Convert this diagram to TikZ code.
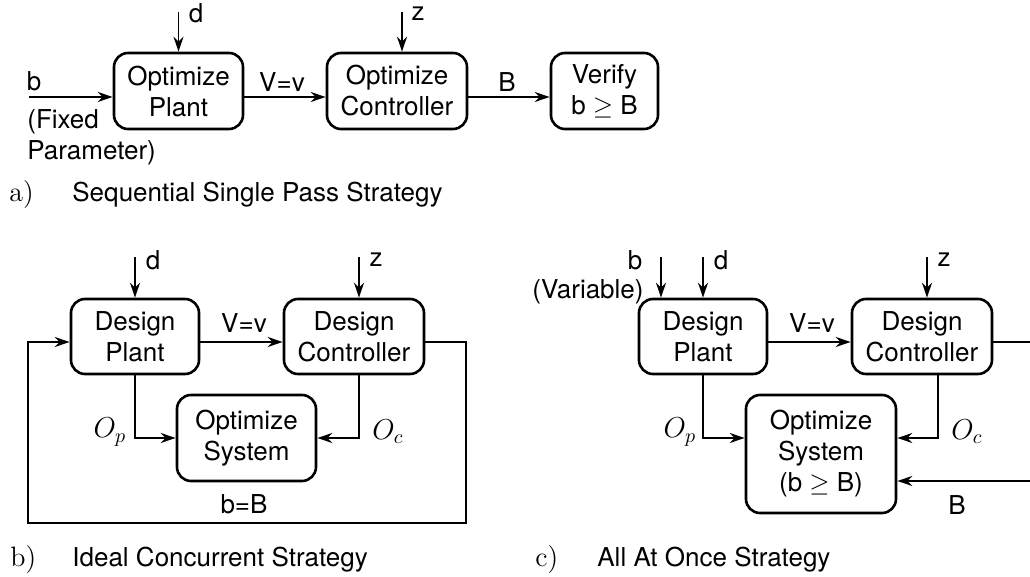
\documentclass[tikz,border=0pt]{standalone}
\usepackage{fix-cm}
\usepackage{fontspec}
\newfontfamily\hv{TeX Gyre Heros}
\usetikzlibrary{arrows.meta}
\newcommand\rmbig{\rmfamily\fontsize{14}{16}\selectfont}
\newcommand\mbig{\rmfamily\fontsize{14.4}{16}\selectfont}
\newcommand\hvbig{\hv\fontsize{13}{15.5}\selectfont}
\begin{document}
\begin{tikzpicture}[x=0.5pt,y=-0.5pt,
  blk/.style={draw,line width=1.3pt,rounded corners=7pt,align=center,inner sep=0pt,
    minimum height=38pt,font=\hvbig},
  lbl/.style={inner sep=0pt,font=\hvbig},
  mlbl/.style={inner sep=0pt,font=\mbig},
  captxt/.style={inner sep=0pt,anchor=base west,font=\hvbig},
  rcaptxt/.style={inner sep=0pt,anchor=base west,font=\rmbig},
  arr/.style={line width=0.8pt,-{Stealth[length=7.5pt,width=5pt,inset=2.5pt]}},
  ln/.style={line width=0.8pt}]
\useasboundingbox (0,0) rectangle (1030,577);
% ---------------- a) ----------------
\node[blk,minimum width=64.5pt] (opA) at (178.5,91) {Optimize\\Plant};
\node[blk,minimum width=70pt] (ocA) at (397,91) {Optimize\\Controller};
\node[blk,minimum width=53.5pt] (vA) at (604.5,91) {Verify\\b $\geq$ B};
\coordinate (ya) at (0,97);
\coordinate (bsA) at (29,97);
\coordinate (dtA) at (178.5,12);
\coordinate (ztA) at (402,12);
\draw[arr] (bsA) -- (opA.west |- ya);
\draw[arr] (opA.east |- ya) -- (ocA.west |- ya);
\draw[arr] (ocA.east |- ya) -- (vA.west |- ya);
\draw[arr] (dtA) -- (opA.north);
\draw[arr] (ztA) -- (ztA |- ocA.north);
\node[lbl] (dA) at (196,13) {d};
\node[lbl] (zA) at (418,14) {z};
\node[lbl] (bA) at (34,81) {b};
\node[lbl] (vvA) at (282,82) {V=v};
\node[lbl] (BA) at (507,82) {B};
\node[lbl,anchor=west,align=left] (fixA) at (27,137) {(Fixed\\Parameter)};
\node[rcaptxt] (capa) at (9,202) {a)};
\node[captxt] (capat) at (72,202) {Sequential Single Pass Strategy};
% ---------------- b) ----------------
\node[blk,minimum width=64pt,minimum height=37.5pt] (dpB) at (135,336.5) {Design\\Plant};
\node[blk,minimum width=70pt,minimum height=37.5pt] (dcB) at (354,336.5) {Design\\Controller};
\node[blk,minimum width=69.5pt,minimum height=43pt] (osB) at (246.5,438) {Optimize\\System};
\coordinate (yb) at (0,342);
\coordinate (dtB) at (135,257);
\coordinate (ztB) at (359,257);
\coordinate (lbr) at (466,523);
\coordinate (lbl) at (28,523);
\draw[arr] (dtB) -- (dpB.north);
\draw[arr] (ztB) -- (ztB |- dcB.north);
\draw[arr] (dpB.east |- yb) -- (dcB.west |- yb);
\draw[arr] (dcB.east |- yb) -| (lbr) -- (lbl) |- (dpB.west |- yb);
\draw[arr] (dpB.south) |- (osB.west);
\draw[arr] (ztB |- dcB.south) |- (osB.east);
\node[lbl] (dB) at (153,260) {d};
\node[lbl] (zB) at (376,260) {z};
\node[lbl] (vvB) at (244,323) {V=v};
\node[lbl] (bbB) at (244,504) {b=B};
\node[mlbl] (opB) at (110,432) {$O_p$};
\node[mlbl] (ocB) at (388,432) {$O_c$};
\node[rcaptxt] (capb) at (10,567) {b)};
\node[captxt] (capbt) at (72,567) {Ideal Concurrent Strategy};
% ---------------- c) ----------------
\node[blk,minimum width=64pt,minimum height=37.5pt] (dpC) at (703,336.5) {Design\\Plant};
\node[blk,minimum width=70pt,minimum height=37.5pt] (dcC) at (922,336.5) {Design\\Controller};
\node[blk,minimum width=75pt,minimum height=59pt] (osC) at (821,454) {Optimize\\System\\(b $\geq$ B)};
\coordinate (yo) at (0,438);
\coordinate (btC) at (661,257);
\coordinate (dtC) at (703,257);
\coordinate (ztC) at (927,257);
\coordinate (ocx) at (938,0);
\coordinate (e1) at (1030,342);
\coordinate (e2) at (1030,481);
\draw[arr] (btC) -- (btC |- dpC.north);
\draw[arr] (dtC) -- (dpC.north);
\draw[arr] (ztC) -- (ztC |- dcC.north);
\draw[arr] (dpC.east |- yb) -- (dcC.west |- yb);
\draw[ln] (dcC.east |- yb) -- (e1);
\draw[arr] (dpC.south) |- (osC.west |- yo);
\draw[arr] (ocx |- dcC.south) |- (osC.east |- yo);
\draw[arr] (e2) -- (osC.east |- e2);
\node[lbl] (bC) at (635,260) {b};
\node[lbl] (varC) at (588,292) {(Variable)};
\node[lbl] (dC) at (721,260) {d};
\node[lbl] (zC) at (944,260) {z};
\node[lbl] (vvC) at (812,323) {V=v};
\node[mlbl] (opC) at (680,432) {$O_p$};
\node[mlbl] (ocC) at (967,432) {$O_c$};
\node[lbl] (BC) at (957,505) {B};
\node[rcaptxt] (capc) at (535,567) {c)};
\node[captxt] (capct) at (597,567) {All At Once Strategy};
\end{tikzpicture}
\end{document}
